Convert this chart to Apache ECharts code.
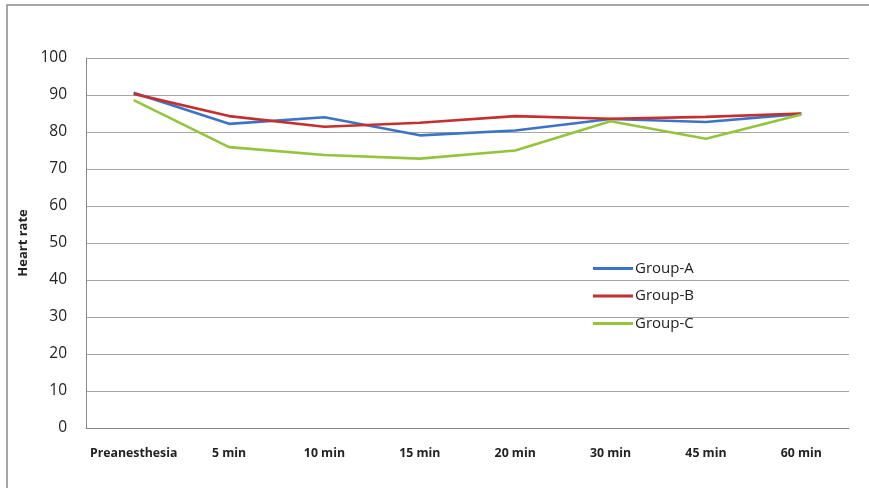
<!DOCTYPE html>
<html><head><meta charset="utf-8">
<script src="https://cdn.jsdelivr.net/npm/echarts@6/dist/echarts.min.js"></script>
<style>html,body{margin:0;padding:0;background:#fff;}#c{width:869px;height:488px;}</style>
</head><body><div id="c"></div>
<script>
const categories = ['Preanesthesia','5 min','10 min','15 min','20 min','30 min','45 min','60 min'];
const groupA = [90.6, 82.2, 84.0, 79.1, 80.4, 83.5, 82.7, 84.9];
const groupB = [90.3, 84.3, 81.4, 82.5, 84.3, 83.6, 84.1, 85.0];
const groupC = [88.6, 75.9, 73.8, 72.8, 75.0, 82.9, 78.2, 84.7];
const yTicks = {min: 0, max: 100, interval: 10};

const chart = echarts.init(document.getElementById('c'), null, {renderer: 'canvas'});
const font = '"Open Sans", sans-serif';
function mk(name, data, color) {
  return {name, type: 'line', data, symbol: 'none', smooth: false,
    lineStyle: {color, width: 2.6}, itemStyle: {color}};
}
chart.setOption({
  animation: false,
  backgroundColor: '#fff',
  graphic: [
    {type: 'rect', shape: {x: 7, y: 5, width: 880, height: 500}, style: {fill: 'none', stroke: '#8a8a8a', lineWidth: 1.5}, silent: true}
  ],
  grid: {left: 86, top: 58, right: 20, bottom: 60},
  legend: {
    orient: 'vertical', left: 588, top: 256,
    itemWidth: 40, itemHeight: 3, itemGap: 12.5, icon: 'rect',
    textStyle: {fontFamily: font, fontSize: 15, color: '#222', padding: [0,0,0,-3]},
    data: ['Group-A','Group-B','Group-C']
  },
  xAxis: {
    type: 'category', data: categories, boundaryGap: true,
    axisLine: {lineStyle: {color: '#888', width: 1}},
    axisTick: {show: false},
    axisLabel: {fontFamily: font, fontSize: 12.3, fontWeight: 'bold', color: '#222', margin: 19, interval: 0}
  },
  yAxis: {
    type: 'value', min: yTicks.min, max: yTicks.max, interval: yTicks.interval,
    name: 'Heart rate', nameLocation: 'middle', nameGap: 56,
    nameTextStyle: {fontFamily: font, fontSize: 13, fontWeight: 'bold', color: '#222'},
    axisLine: {show: true, lineStyle: {color: '#888', width: 1}},
    axisTick: {show: false},
    splitLine: {lineStyle: {color: '#a6a6a6', width: 1.2}},
    axisLabel: {fontFamily: font, fontSize: 15.5, color: '#222', margin: 19}
  },
  series: [
    mk('Group-A', groupA, '#3b74c6'),
    mk('Group-B', groupB, '#c4302e'),
    mk('Group-C', groupC, '#94c43c')
  ]
});
</script></body></html>
